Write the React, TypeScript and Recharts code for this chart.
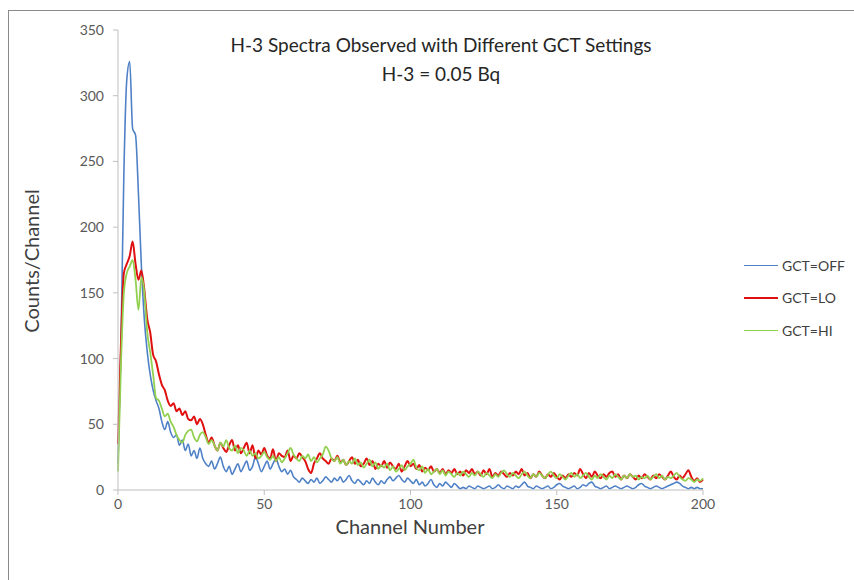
import { LineChart, Line, XAxis, YAxis } from "recharts";

// counts per channel, channel 0..200
const gctOff = [
  20, 110, 240, 312, 326, 275, 270, 225, 170, 130,
  105, 88, 76, 68, 62, 52, 46, 52, 44, 40,
  42, 34, 38, 30, 35, 26, 30, 24, 32, 24,
  20, 18, 22, 16, 20, 25, 18, 14, 18, 12,
  16, 20, 14, 18, 22, 15, 18, 25, 20, 14,
  18, 22, 16, 20, 24, 18, 14, 16, 12, 15,
  10, 8, 6, 9, 7, 5, 8, 6, 9, 5,
  7, 10, 8, 6, 9, 7, 10, 6, 8, 11,
  7, 5, 8, 6, 4, 7, 5, 9, 6, 4,
  7, 5, 8, 10, 7, 9, 11, 8, 6, 9,
  7, 5, 8, 4, 6, 3, 5, 8, 4, 2,
  5, 3, 6, 4, 2, 5, 3, 1, 2, 1,
  3, 2, 1, 3, 2, 1, 2, 3, 1, 2,
  4, 2, 1, 3, 2, 1, 3, 2, 4, 6,
  3, 2, 1, 3, 2, 1, 2, 3, 1, 2,
  4, 5, 3, 2, 1, 2, 3, 1, 2, 4,
  3, 5, 6, 3, 2, 1, 2, 3, 1, 2,
  3, 2, 1, 2, 3, 2, 1, 2, 4, 5,
  3, 2, 1, 2, 3, 2, 1, 2, 3, 4,
  5, 6, 5, 3, 2, 1, 2, 1, 2, 1,
  1,
];

const gctLo = [
  35, 110, 165, 172, 178, 189, 172, 160, 167, 152,
  130, 120, 103, 98, 88, 80, 76, 68, 64, 66,
  60, 62, 57, 60, 54, 53, 56, 50, 54, 50,
  42, 36, 40, 34, 30, 36, 32, 29, 34, 38,
  30, 34, 28, 32, 36, 28, 34, 24, 30, 27,
  32, 26, 24, 31, 22, 28, 26, 25, 30, 22,
  26, 24, 28, 25, 22, 16, 13, 20, 24, 28,
  24, 22, 20, 24, 22, 26, 21, 23, 19, 22,
  25, 20, 23, 18, 20, 24, 19, 22, 16, 20,
  18, 22, 17, 21, 18, 16, 20, 14, 18, 22,
  18, 20, 16, 19, 14, 17, 15, 18, 14, 16,
  13, 16, 12, 15, 13, 16, 12, 14, 11, 15,
  13, 16, 12, 14, 11, 15, 12, 16, 10, 13,
  11, 14, 12, 10, 13, 11, 14, 12, 16, 11,
  13, 9, 12, 10, 14, 11, 9, 12, 10, 13,
  10, 8, 11, 9, 12, 10, 13, 11, 16, 12,
  9, 13, 10, 14, 11, 9, 12, 10, 13, 14,
  10, 12, 8, 11, 9, 12, 10, 8, 11, 9,
  12, 10, 8, 11, 9, 12, 10, 8, 11, 14,
  10, 8, 11, 9, 12, 15, 10, 7, 9, 6,
  8,
];

const gctHi = [
  14, 95, 150, 165, 170, 175, 160, 137, 162, 150,
  120, 105, 88, 70, 68, 62, 56, 58, 52, 48,
  42, 38, 36, 42, 45, 46, 40, 37, 42, 44,
  40, 35, 38, 34, 30, 36, 33, 38, 32, 30,
  34, 28, 32, 30, 26, 30, 26, 28, 24, 26,
  29, 25, 23, 26, 22, 25, 21, 24, 28, 32,
  27, 24, 22, 26, 24, 27, 22, 25, 21, 24,
  27, 33, 30, 24, 22, 25, 20, 23, 19, 22,
  20, 24, 19, 21, 17, 20, 23, 18, 21, 16,
  19, 17, 20, 15, 18, 14, 16, 19, 15, 18,
  20, 23, 17, 15, 18, 13, 16, 12, 14, 16,
  12, 15, 11, 14, 12, 10, 13, 11, 14, 12,
  10, 13, 11, 14, 12, 10, 13, 11, 9, 12,
  10, 13, 15, 12, 10, 13, 11, 9, 12, 14,
  11, 9, 12, 10, 13, 11, 9, 12, 14, 11,
  9, 12, 10, 8, 11, 13, 10, 12, 9, 11,
  13, 10, 8, 11, 9, 12, 10, 8, 11, 9,
  12, 10, 8, 11, 9, 12, 10, 11, 8, 10,
  9, 11, 8, 10, 12, 9, 11, 8, 10, 9,
  11, 13, 10, 8, 7, 9, 8, 6, 8, 7,
  9,
];

const xTicks = [0, 50, 100, 150, 200];
const yTicks = [0, 50, 100, 150, 200, 250, 300, 350];

const series = [
  { key: "off", name: "GCT=OFF", color: "#4f81c7", width: 1.6 },
  { key: "lo", name: "GCT=LO", color: "#e01010", width: 2 },
  { key: "hi", name: "GCT=HI", color: "#92d050", width: 1.8 },
];

const data = gctOff.map((v, i) => ({
  ch: i,
  off: v,
  lo: gctLo[i],
  hi: gctHi[i],
}));

const font = "Lato, 'Noto Sans', sans-serif";
const textColor = "#404040";

export default function App() {
  return (
    <div
      style={{
        position: "absolute",
        left: 0,
        top: 0,
        width: 854,
        height: 580,
        background: "#fff",
        fontFamily: font,
        overflow: "hidden",
      }}
    >
      {/* frame */}
      <div
        style={{
          position: "absolute",
          left: 8,
          top: 10,
          width: 860,
          height: 600,
          borderLeft: "1.5px solid #8a8a8a",
          borderTop: "1.5px solid #8a8a8a",
        }}
      />

      <LineChart
        width={854}
        height={580}
        data={data}
        margin={{ top: 30, right: 151, bottom: 0, left: 0 }}
        style={{ position: "absolute", left: 0, top: 0 }}
      >
        <XAxis
          dataKey="ch"
          type="number"
          domain={[0, 200]}
          ticks={xTicks}
          height={90}
          tickSize={5}
          tickMargin={4}
          stroke="#bfbfbf"
          tick={{ fill: "#595959", fontSize: 14, fontFamily: font }}
        />
        <YAxis
          domain={[0, 350]}
          ticks={yTicks}
          width={118}
          tickSize={5}
          tickMargin={9}
          stroke="#bfbfbf"
          tick={{ fill: "#595959", fontSize: 14, fontFamily: font }}
        />
        {series.map((s) => (
          <Line
            key={s.key}
            dataKey={s.key}
            name={s.name}
            type="monotone"
            stroke={s.color}
            strokeWidth={s.width}
            dot={false}
            isAnimationActive={false}
          />
        ))}
      </LineChart>

      {/* title */}
      <div
        style={{
          position: "absolute",
          left: 141,
          width: 600,
          top: 30,
          textAlign: "center",
          fontSize: 19,
          lineHeight: "29px",
          color: "#262626",
        }}
      >
        H-3 Spectra Observed with Different GCT Settings
        <br />
        H-3 = 0.05 Bq
      </div>

      {/* axis titles */}
      <div
        style={{
          position: "absolute",
          left: 31,
          top: 261,
          transform: "translate(-50%, -50%) rotate(-90deg)",
          whiteSpace: "nowrap",
          fontSize: 20,
          lineHeight: 1,
          color: textColor,
        }}
      >
        Counts/Channel
      </div>
      <div
        style={{
          position: "absolute",
          left: 410,
          top: 526,
          transform: "translate(-50%, -50%)",
          whiteSpace: "nowrap",
          fontSize: 20,
          lineHeight: 1,
          color: textColor,
        }}
      >
        Channel Number
      </div>

      {/* legend */}
      {series.map((s, i) => (
        <div
          key={s.key}
          style={{
            position: "absolute",
            left: 744,
            top: 255 + i * 32.5,
            height: 20,
            display: "flex",
            alignItems: "center",
            fontSize: 14,
            color: textColor,
          }}
        >
          <span
            style={{
              display: "inline-block",
              width: 34,
              height: 0,
              borderTop: `${s.width}px solid ${s.color}`,
              marginRight: 4,
            }}
          />
          {s.name}
        </div>
      ))}
    </div>
  );
}
